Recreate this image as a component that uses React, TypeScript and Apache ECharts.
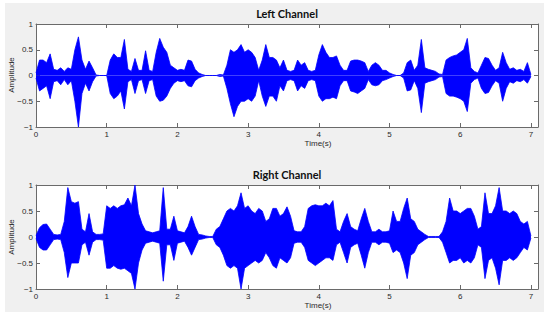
import React, { useEffect, useRef } from 'react';
import * as echarts from 'echarts';

// time step between envelope samples (seconds)
const timeStep = 0.05;

// Left channel envelope (upper and lower), t = 0 .. 7.0 s
const leftUpper = [
  0.05, 0.3, 0.3, 0.25, 0.42, 0.12, 0.1, 0.15, 0.08, 0.15,
  0.12, 0.5, 0.75, 0.3, 0.12, 0.28, 0.15, 0.01, 0.0, 0.0,
  0.0, 0.3, 0.42, 0.35, 0.35, 0.7, 0.12, 0.08, 0.33, 0.1,
  0.1, 0.48, 0.1, 0.08, 0.45, 0.72, 0.55, 0.45, 0.2, 0.15,
  0.1, 0.12, 0.1, 0.3, 0.28, 0.12, 0.05, 0.02, 0.0, 0.0,
  0.0, 0.0, 0.02, 0.01, 0.2, 0.5, 0.45, 0.5, 0.6, 0.45,
  0.5, 0.45, 0.35, 0.1, 0.3, 0.6, 0.35, 0.35, 0.3, 0.15,
  0.3, 0.1, 0.08, 0.1, 0.3, 0.2, 0.25, 0.1, 0.08, 0.1,
  0.4, 0.6, 0.45, 0.35, 0.35, 0.38, 0.2, 0.1, 0.1, 0.28,
  0.3, 0.3, 0.28, 0.25, 0.08, 0.2, 0.25, 0.2, 0.1, 0.1,
  0.05, 0.02, 0.0, 0.0, 0.05, 0.25, 0.3, 0.1, 0.2, 0.7,
  0.15, 0.12, 0.1, 0.08, 0.03, 0.02, 0.3, 0.35, 0.38, 0.4,
  0.45, 0.5, 0.72, 0.15, 0.08, 0.05, 0.2, 0.35, 0.33, 0.2,
  0.1, 0.15, 0.45, 0.25, 0.12, 0.15, 0.1, 0.12, 0.08, 0.25,
  0.02,
];
const leftLower = [
  -0.05, -0.3, -0.25, -0.2, -0.45, -0.12, -0.1, -0.18, -0.08, -0.18,
  -0.1, -0.5, -1.0, -0.35, -0.15, -0.3, -0.12, -0.01, 0, 0,
  0, -0.35, -0.45, -0.4, -0.3, -0.65, -0.12, -0.08, -0.35, -0.1,
  -0.08, -0.35, -0.1, -0.08, -0.4, -0.5, -0.48, -0.4, -0.25, -0.15,
  -0.1, -0.12, -0.1, -0.2, -0.22, -0.1, -0.05, -0.02, 0, 0,
  0, 0, -0.02, -0.01, -0.25, -0.55, -0.8, -0.6, -0.5, -0.5,
  -0.45, -0.5, -0.4, -0.1, -0.4, -0.6, -0.4, -0.4, -0.5, -0.2,
  -0.3, -0.1, -0.08, -0.1, -0.3, -0.2, -0.25, -0.1, -0.08, -0.1,
  -0.4, -0.5, -0.45, -0.45, -0.42, -0.45, -0.2, -0.1, -0.1, -0.3,
  -0.32, -0.35, -0.3, -0.25, -0.08, -0.18, -0.2, -0.18, -0.1, -0.08,
  -0.05, -0.02, 0, 0, -0.05, -0.3, -0.28, -0.1, -0.25, -0.72,
  -0.15, -0.12, -0.1, -0.08, -0.03, -0.02, -0.35, -0.4, -0.4, -0.42,
  -0.45, -0.5, -0.7, -0.15, -0.08, -0.05, -0.25, -0.35, -0.33, -0.2,
  -0.1, -0.15, -0.5, -0.25, -0.12, -0.15, -0.1, -0.12, -0.08, -0.15,
  -0.02,
];

// Right channel envelope (upper and lower)
const rightUpper = [
  0.03, 0.18, 0.24, 0.25, 0.15, 0.05, 0.04, 0.05, 0.3, 0.95,
  0.68, 0.65, 0.68, 0.15, 0.1, 0.45, 0.1, 0.05, 0.05, 0.06,
  0.6, 0.55, 0.6, 0.55, 0.6, 0.62, 0.75, 0.6, 1.0, 0.45,
  0.25, 0.12, 0.1, 0.08, 0.1, 0.12, 0.95, 0.15, 0.15, 0.4,
  0.12, 0.1, 0.08, 0.2, 0.4, 0.2, 0.05, 0.04, 0.02, 0.01,
  0.01, 0.15, 0.2, 0.35, 0.5, 0.55, 0.5, 0.6, 0.85, 0.55,
  0.6, 0.5, 0.45, 0.55, 0.5, 0.3, 0.35, 0.55, 0.55, 0.4,
  0.45, 0.58, 0.4, 0.12, 0.1, 0.1, 0.2, 0.55, 0.6, 0.62,
  0.6, 0.6, 0.65, 0.6, 0.7, 0.15, 0.1, 0.3, 0.45, 0.2,
  0.15, 0.12, 0.35, 0.55, 0.3, 0.1, 0.1, 0.15, 0.1, 0.1,
  0.12, 0.5, 0.3, 0.3, 0.55, 0.75, 0.35, 0.3, 0.15, 0.1,
  0.05, 0.01, 0.01, 0.01, 0.01, 0.1, 0.3, 0.75, 0.5, 0.5,
  0.45, 0.5, 0.55, 0.55, 0.4, 0.15, 0.2, 0.85, 0.45, 0.45,
  0.6, 0.95, 0.5, 0.5, 0.45, 0.5, 0.45, 0.3, 0.25, 0.3,
  0.02,
];
const rightLower = [
  -0.03, -0.2, -0.25, -0.25, -0.15, -0.05, -0.04, -0.05, -0.3, -0.78,
  -0.5, -0.5, -0.5, -0.15, -0.1, -0.35, -0.1, -0.05, -0.05, -0.06,
  -0.6, -0.6, -0.55, -0.6, -0.62, -0.6, -0.65, -0.7, -1.0, -0.5,
  -0.25, -0.12, -0.1, -0.08, -0.1, -0.12, -0.85, -0.15, -0.15, -0.45,
  -0.12, -0.1, -0.08, -0.2, -0.35, -0.2, -0.05, -0.04, -0.02, -0.01,
  -0.01, -0.15, -0.2, -0.35, -0.55, -0.6, -0.55, -0.6, -1.0, -0.6,
  -0.55, -0.5, -0.45, -0.5, -0.45, -0.3, -0.4, -0.55, -0.6, -0.4,
  -0.45, -0.5, -0.4, -0.12, -0.1, -0.1, -0.2, -0.45, -0.5, -0.55,
  -0.5, -0.45, -0.4, -0.4, -0.45, -0.15, -0.1, -0.3, -0.5, -0.2,
  -0.15, -0.12, -0.35, -0.6, -0.3, -0.1, -0.1, -0.15, -0.1, -0.1,
  -0.12, -0.3, -0.25, -0.3, -0.5, -0.8, -0.35, -0.3, -0.15, -0.1,
  -0.05, -0.01, -0.01, -0.01, -0.01, -0.1, -0.3, -0.5, -0.45, -0.45,
  -0.4, -0.5, -0.45, -0.5, -0.4, -0.15, -0.2, -0.8, -0.45, -0.4,
  -0.6, -0.92, -0.45, -0.45, -0.4, -0.45, -0.4, -0.3, -0.2, -0.25,
  -0.02,
];

const titles = ['Left Channel', 'Right Channel'];
const xTickLabels = ['0', '1', '2', '3', '4', '5', '6', '7'];
const yTickValues = [-1, -0.5, 0, 0.5, 1];

const toPairs = (arr: number[]) => arr.map((v, i) => [Number((i * timeStep).toFixed(2)), v]);

export default function App() {
  const ref = useRef<HTMLDivElement>(null);
  useEffect(() => {
    if (!ref.current) return;
    const chart = echarts.init(ref.current, undefined, { renderer: 'svg' });
    const axisColor = '#6a6a6a';
    const labelColor = '#2a2a2a';
    const font = 'Liberation Sans';
    const grids = [
      { left: 36, top: 24, width: 502, height: 103 },
      { left: 36, top: 185, width: 502, height: 104 },
    ];
    const xAxes: any[] = [];
    const yAxes: any[] = [];
    grids.forEach((_, g) => {
      xAxes.push({
        type: 'value', gridIndex: g, min: 0, max: 7.1, interval: 1, position: 'bottom',
        axisLine: { show: true, onZero: false, lineStyle: { color: axisColor, width: 1 } },
        axisTick: { show: true, inside: true, length: 4, lineStyle: { color: axisColor } },
        splitLine: { show: false },
        axisLabel: {
          color: labelColor, fontSize: 8, fontFamily: font, margin: 3,
          formatter: (v: number) => (Number.isInteger(v) ? xTickLabels[v] ?? '' : ''),
        },
      });
      xAxes.push({
        type: 'value', gridIndex: g, min: 0, max: 7.1, interval: 1, position: 'top',
        axisLine: { show: true, onZero: false, lineStyle: { color: axisColor, width: 1 } },
        axisTick: { show: true, inside: true, length: 4, lineStyle: { color: axisColor } },
        splitLine: { show: false },
        axisLabel: { show: false },
      });
      yAxes.push({
        type: 'value', gridIndex: g, min: -1, max: 1, interval: 0.5, position: 'left',
        axisLine: { show: true, onZero: false, lineStyle: { color: axisColor, width: 1 } },
        axisTick: { show: true, inside: true, length: 4, lineStyle: { color: axisColor } },
        splitLine: { show: false },
        axisLabel: {
          color: labelColor, fontSize: 8, fontFamily: font, margin: 3,
          formatter: (v: number) => (yTickValues.includes(v) ? String(v).replace('-', '\u2212') : ''),
        },
      });
      yAxes.push({
        type: 'value', gridIndex: g, min: -1, max: 1, interval: 0.5, position: 'right',
        axisLine: { show: true, onZero: false, lineStyle: { color: axisColor, width: 1 } },
        axisTick: { show: true, inside: true, length: 4, lineStyle: { color: axisColor } },
        splitLine: { show: false },
        axisLabel: { show: false },
      });
    });
    const blue = '#0000ff';
    const mk = (data: number[], g: number) => ({
      type: 'line', xAxisIndex: g * 2, yAxisIndex: g * 2, data: toPairs(data),
      showSymbol: false, symbol: 'none', silent: true,
      lineStyle: { color: blue, width: 0.8 },
      areaStyle: { color: blue, opacity: 1, origin: 0 },
      z: 2,
    });
    const graphics: any[] = [
      { type: 'rect', shape: { x: 5, y: 3, width: 539, height: 309 }, style: { fill: '#f0f0f0' }, z: -10, silent: true },
      { type: 'rect', shape: { x: 36, y: 24, width: 502, height: 103 }, style: { fill: '#ffffff' }, z: -9, silent: true },
      { type: 'rect', shape: { x: 36, y: 185, width: 502, height: 104 }, style: { fill: '#ffffff' }, z: -9, silent: true },
      { type: 'text', x: 287, y: 13, style: { text: titles[0], fill: '#111', font: 'bold 11px Lato', textAlign: 'center', textVerticalAlign: 'middle' } },
      { type: 'text', x: 287, y: 174, style: { text: titles[1], fill: '#111', font: 'bold 11px Lato', textAlign: 'center', textVerticalAlign: 'middle' } },
      { type: 'text', x: 318, y: 143, style: { text: 'Time(s)', fill: labelColor, font: '8px Liberation Sans', textAlign: 'center', textVerticalAlign: 'middle' } },
      { type: 'text', x: 318, y: 305, style: { text: 'Time(s)', fill: labelColor, font: '8px Liberation Sans', textAlign: 'center', textVerticalAlign: 'middle' } },
      { type: 'text', x: 11, y: 75, rotation: Math.PI / 2, style: { text: 'Amplitude', fill: labelColor, font: '8px Liberation Sans', textAlign: 'center', textVerticalAlign: 'middle' } },
      { type: 'text', x: 11, y: 237, rotation: Math.PI / 2, style: { text: 'Amplitude', fill: labelColor, font: '8px Liberation Sans', textAlign: 'center', textVerticalAlign: 'middle' } },
    ];
    chart.setOption({
      animation: false,
      backgroundColor: '#ffffff',
      grid: grids,
      xAxis: xAxes,
      yAxis: yAxes,
      series: [mk(leftUpper, 0), mk(leftLower, 0), mk(rightUpper, 1), mk(rightLower, 1)],
      graphic: graphics,
    });
    return () => chart.dispose();
  }, []);
  return <div ref={ref} style={{ position: 'fixed', left: 0, top: 0, width: 550, height: 318 }} />;
}
